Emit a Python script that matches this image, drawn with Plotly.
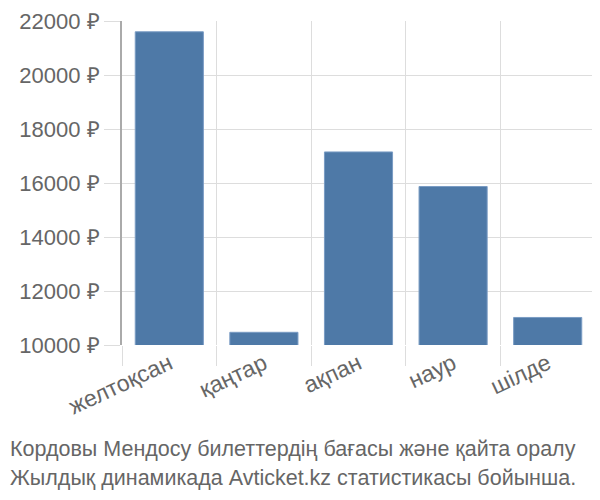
import plotly.graph_objects as go

months = ["желтоқсан", "қаңтар", "ақпан", "наур", "шілде"]
prices = [21600, 10470, 17150, 15870, 11020]
y_ticks = [10000, 12000, 14000, 16000, 18000, 20000, 22000]
y_labels = [f"{v} ₽" for v in y_ticks]
caption = ["Кордовы Мендосу билеттердің бағасы және қайта оралу",
           "Жылдық динамикада Avticket.kz статистикасы бойынша."]

fig = go.Figure()
fig.add_trace(go.Bar(
    x=months, y=prices, base=0,
    marker=dict(color="#4e79a7", line=dict(color="#7a9cc4", width=1)),
    hoverinfo="x+y",
))

# the page adds an 8px body margin, so margins are shifted by that
fig.update_layout(
    width=600, height=500,
    margin=dict(l=114, r=13, t=13, b=163),
    plot_bgcolor="white", paper_bgcolor="white",
    font=dict(family="Liberation Sans, Arial, sans-serif", color="#666666"),
    bargap=0.28,
    showlegend=False,
    xaxis=dict(
        tickson="boundaries", showgrid=True, gridcolor="#dddddd", gridwidth=1,
        ticks="outside", ticklen=20, tickcolor="#dddddd",
        tickangle=-25, tickfont=dict(size=23, color="#666666"),
        showline=False, zeroline=False, automargin=False,
    ),
    yaxis=dict(
        range=[10000, 22000], tickvals=y_ticks, ticktext=y_labels,
        showgrid=True, gridcolor="#dddddd", gridwidth=1,
        ticks="outside", ticklen=16, tickcolor="#dddddd",
        tickfont=dict(size=22, color="#666666"),
        showline=True, linecolor="#aaaaaa", linewidth=2, zeroline=False,
        automargin=False, ticklabeloverflow="allow",
    ),
)

for i, line in enumerate(caption):
    fig.add_annotation(
        text=line, xref="paper", yref="paper", x=-114 / 473, y=-0.32 - i * 0.09,
        xanchor="left", yanchor="middle", showarrow=False,
        font=dict(size=21.5, color="#666666"),
    )

fig.write_html("out.html")
